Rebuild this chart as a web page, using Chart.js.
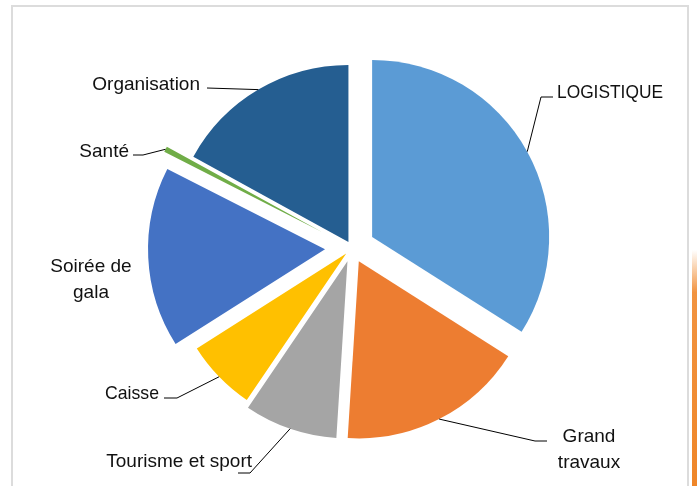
<!DOCTYPE html>
<html>
<head>
<meta charset="utf-8">
<script src="https://cdn.jsdelivr.net/npm/chart.js@4/dist/chart.umd.min.js"></script>
<style>
  html, body { margin: 0; padding: 0; background: #ffffff; }
  #wrap { position: relative; width: 697px; height: 486px; overflow: hidden; background: #fff; }
  #frame { position: absolute; left: 11px; top: 5px; width: 678px; height: 520px; border: 2px solid #dcdcdc; box-sizing: border-box; }
  #strip { position: absolute; left: 692px; top: 250px; width: 5px; height: 236px;
           background: linear-gradient(to bottom, rgba(240,136,44,0) 0%, rgba(240,136,44,0.9) 18%, #ef8629 100%); }
  #c { position: absolute; left: 0; top: 0; }
</style>
</head>
<body>
<div id="wrap">
  <div id="frame"></div>
  <div id="strip"></div>
  <canvas id="c" width="697" height="486"></canvas>
</div>
<script>
// ---- data ----
const categories = ['LOGISTIQUE', 'Grand travaux', 'Tourisme et sport', 'Caisse', 'Soirée de gala', 'Santé', 'Organisation'];
const values = [34, 17, 8.5, 6.5, 16.5, 0.5, 17];

// ---- styling ----
const colors = ['#5B9BD5', '#ED7D31', '#A5A5A5', '#FFC000', '#4472C4', '#70AD47', '#255E91'];
const explode = [23, 15, 14, 8, 27, 34, 7];   // px each slice is pulled out
const FONT = '19px "Liberation Sans", Arial, sans-serif';
const TEXT_COLOR = '#111111';

// label layout: text lines, anchor, alignment, leader elbow points
const labelLayout = [
  { lines: ['LOGISTIQUE'], x: 557, y: [98], align: 'left', maxWidth: 106, leader: [[541, 97], [553, 97]] },
  { lines: ['Grand', 'travaux'], x: 589, y: [442, 468], align: 'center', leader: [[535, 441], [547, 441]] },
  { lines: ['Tourisme et sport'], x: 252, y: [467], align: 'right', leader: [[250, 473], [238, 473]] },
  { lines: ['Caisse'], x: 159, y: [399], align: 'right', maxWidth: 54, leader: [[177, 398], [164, 398]] },
  { lines: ['Soirée de', 'gala'], x: 91, y: [272, 298], align: 'center', leader: null },
  { lines: ['Santé'], x: 129, y: [157], align: 'right', leader: [[143, 155], [133, 155]] },
  { lines: ['Organisation'], x: 200, y: [90], align: 'right', leader: [[207, 88]] }
];

const explodePlugin = {
  id: 'explodeSlices',
  beforeDatasetDraw(chart, args) {
    const ctx = chart.ctx;
    args.meta.data.forEach((arc, i) => {
      const mid = (arc.startAngle + arc.endAngle) / 2;
      const d = explode[i] || 0;
      ctx.save();
      ctx.translate(Math.cos(mid) * d, Math.sin(mid) * d);
      arc.draw(ctx, chart.chartArea);
      ctx.restore();
    });
    return false;
  }
};

const labelPlugin = {
  id: 'outsideLabels',
  afterDatasetsDraw(chart) {
    const ctx = chart.ctx;
    const meta = chart.getDatasetMeta(0);
    ctx.save();
    meta.data.forEach((arc, i) => {
      const L = labelLayout[i];
      if (!L) return;
      const mid = (arc.startAngle + arc.endAngle) / 2;
      const r = arc.outerRadius + (explode[i] || 0);
      const sx = arc.x + Math.cos(mid) * r;
      const sy = arc.y + Math.sin(mid) * r;
      if (L.leader) {
        ctx.beginPath();
        ctx.strokeStyle = '#000000';
        ctx.lineWidth = 1;
        ctx.moveTo(sx, sy);
        L.leader.forEach(p => ctx.lineTo(p[0], p[1]));
        ctx.stroke();
      }
      ctx.font = FONT;
      ctx.fillStyle = TEXT_COLOR;
      ctx.textAlign = L.align;
      ctx.textBaseline = 'alphabetic';
      L.lines.forEach((t, k) => {
        if (L.maxWidth) ctx.fillText(t, L.x, L.y[k], L.maxWidth);
        else ctx.fillText(t, L.x, L.y[k]);
      });
    });
    ctx.restore();
  }
};

new Chart(document.getElementById('c'), {
  type: 'pie',
  data: {
    labels: categories,
    datasets: [{
      data: values,
      backgroundColor: colors,
      borderWidth: 0
    }]
  },
  options: {
    responsive: false,
    animation: false,
    radius: 177,
    layout: { padding: { left: 102, right: 95, top: 61, bottom: 51 } },
    plugins: {
      legend: { display: false },
      tooltip: { enabled: false },
      title: { display: false }
    }
  },
  plugins: [explodePlugin, labelPlugin]
});
</script>
</body>
</html>
